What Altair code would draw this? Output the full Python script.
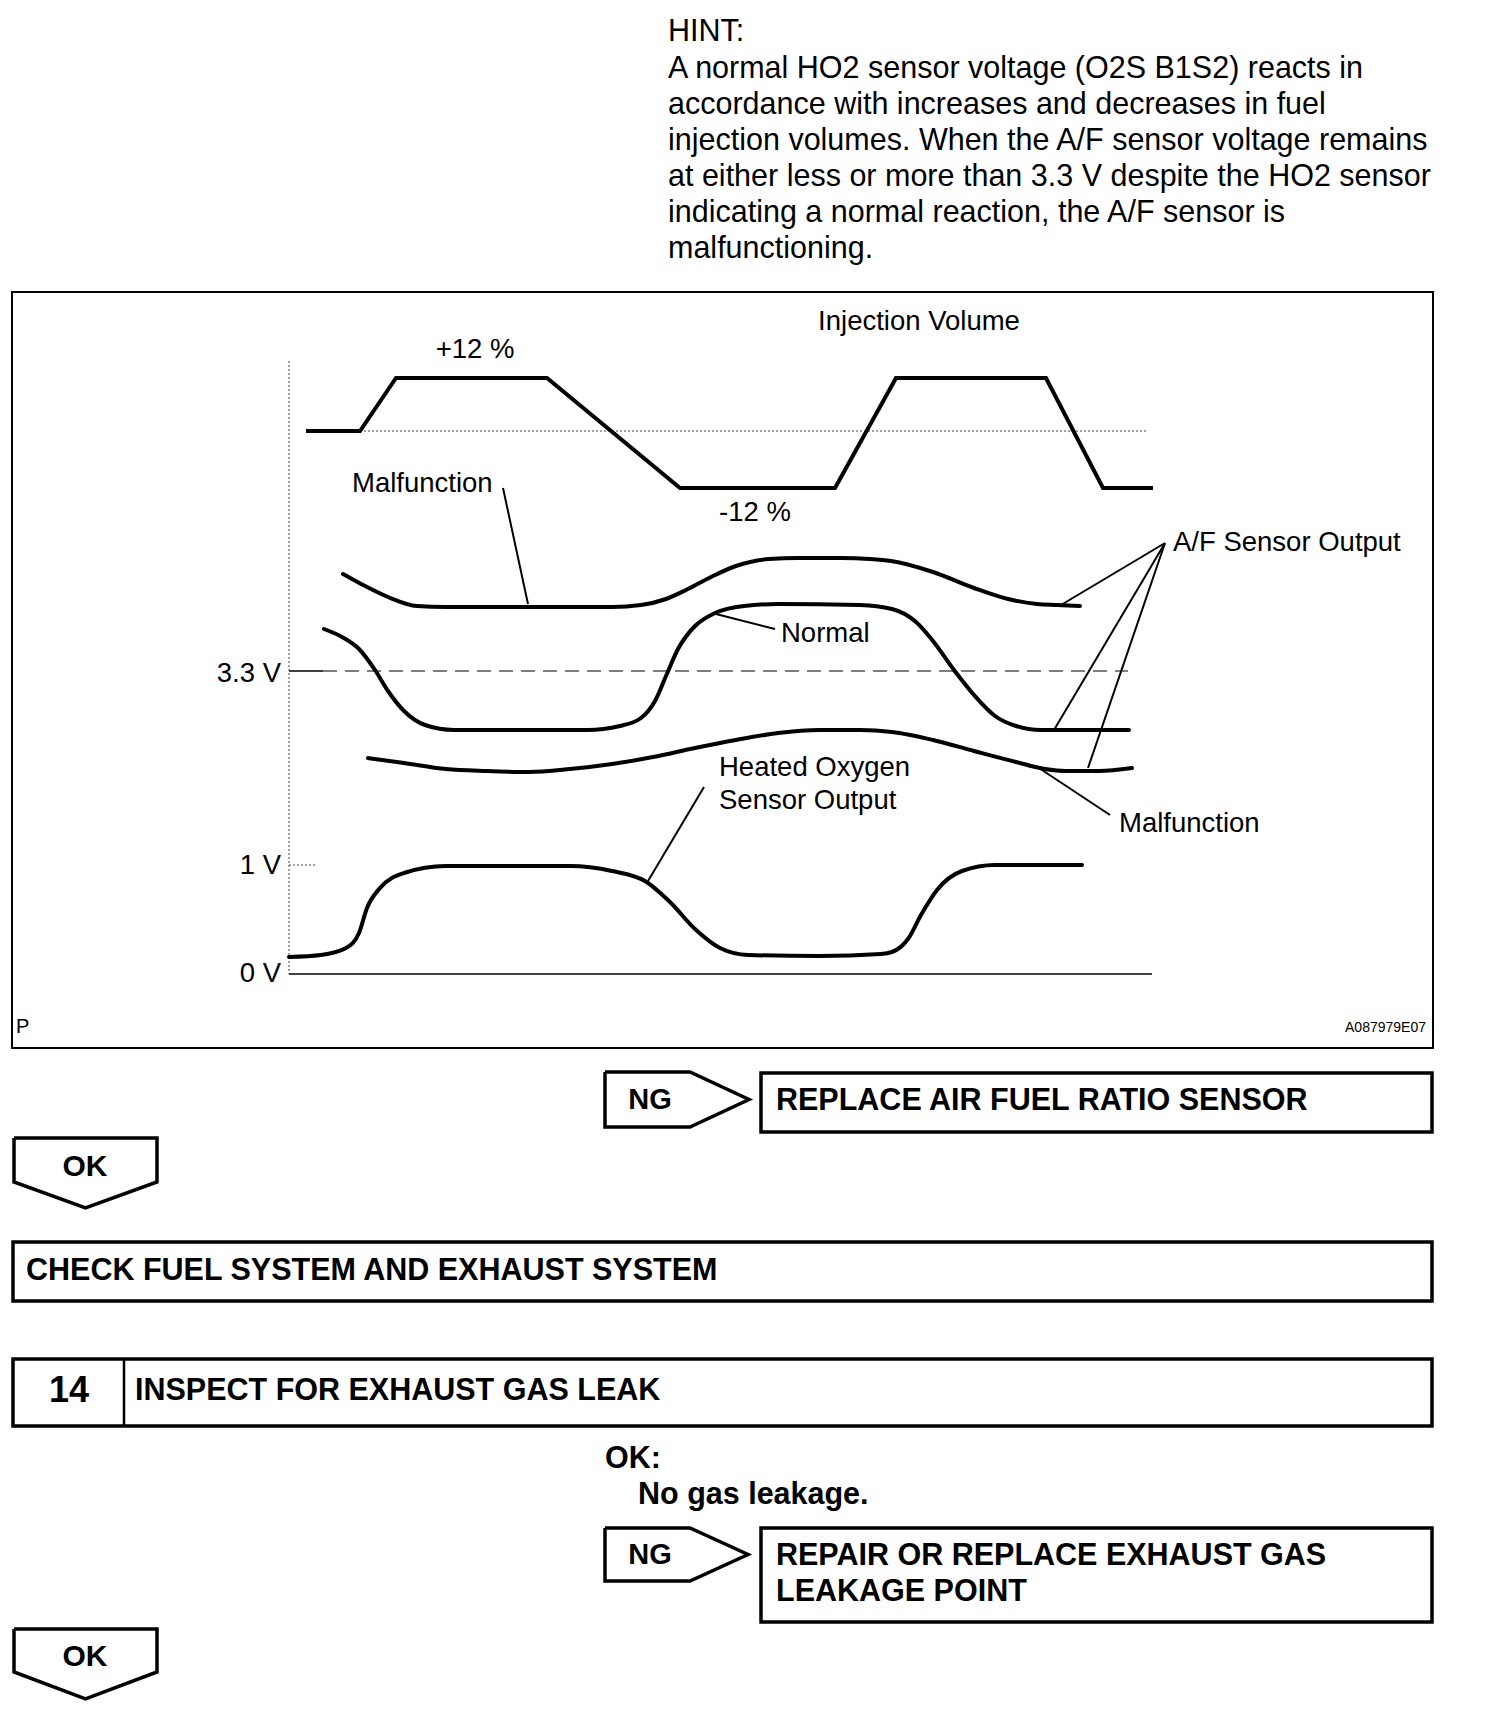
import altair as alt
import pandas as pd

# ---------------- page coordinates of the reference (px) ----------------
PAGE_W, PAGE_H = 1504, 1716

# ---------------- HINT text ----------------
HINT_LINES = [
    "HINT:",
    "A normal HO2 sensor voltage (O2S B1S2) reacts in",
    "accordance with increases and decreases in fuel",
    "injection volumes. When the A/F sensor voltage remains",
    "at either less or more than 3.3 V despite the HO2 sensor",
    "indicating a normal reaction, the A/F sensor is",
    "malfunctioning.",
]
HINT_X = 668
HINT_Y = [32, 69, 105, 141, 177, 213, 249]

# ---------------- diagram curves ----------------
INJ_X = [306, 360, 396, 547, 680, 835, 896, 1046, 1103, 1153]
INJ_Y = [431, 431, 378, 378, 488, 488, 378, 378, 488, 488]

AF_MAL_UP_X = [343, 363, 388, 417, 446, 529, 612, 641, 666, 686, 711, 736, 769, 798, 840,
               870, 891, 933, 974, 1008, 1037, 1057, 1080]
AF_MAL_UP_Y = [574, 585, 597, 606, 607, 607, 607, 605, 599, 590, 577, 566, 559, 558, 558,
               559, 561, 572, 588, 599, 604, 605, 606]

AF_NORMAL_X = [324, 342, 359, 375, 388, 404, 425, 454, 529, 587, 620, 641, 655, 666, 678,
               695, 715, 744, 778, 860, 892, 916, 933, 954, 974, 995, 1016, 1041, 1129]
AF_NORMAL_Y = [629, 637, 649, 670, 691, 711, 725, 730, 730, 730, 726, 718, 701, 676, 649,
               626, 613, 606, 604, 605, 609, 622, 641, 670, 695, 716, 726, 730, 730]

AF_MAL_LOW_X = [368, 404, 446, 487, 529, 570, 612, 653, 695, 736, 778, 819, 860, 892, 933,
                974, 1016, 1045, 1066, 1099, 1132]
AF_MAL_LOW_Y = [758, 763, 769, 771, 772, 769, 764, 757, 748, 740, 733, 730, 730, 732, 740,
                751, 762, 769, 771, 771, 768]

HO2_X = [289, 321, 346, 359, 367, 380, 404, 446, 570, 612, 645, 670, 695, 720, 748, 819,
         881, 892, 908, 921, 937, 962, 995, 1082]
HO2_Y = [957, 955, 948, 933, 908, 888, 873, 866, 866, 871, 881, 902, 929, 948, 955, 956,
         954, 952, 939, 915, 890, 871, 865, 865]

# leader lines: (x1, y1, x2, y2)
LEADERS = [
    (503, 488, 528, 604),      # Malfunction (upper)
    (716, 614, 775, 629),      # Normal
    (1165, 543, 1061, 605),    # A/F -> upper
    (1165, 543, 1054, 730),    # A/F -> normal
    (1165, 543, 1088, 768),    # A/F -> lower
    (1039, 768, 1110, 815),    # Malfunction (lower)
    (704, 787, 648, 881),      # Heated oxygen
]

# reference / axis lines
SOLID_THIN = [(289, 974, 1152, 974), (289, 671, 323, 671)]
DASH_33 = [(323, 671, 1128, 671)]
DOTTED = [(289, 361, 289, 974), (289, 865, 315, 865), (360, 431, 1146, 431)]

FRAME = (12, 292, 1433, 1048)

DIAG_LABELS = [
    ("Injection Volume", 919, 322, "center"),
    ("+12 %", 475, 350, "center"),
    ("-12 %", 755, 513, "center"),
    ("Malfunction", 352, 484, "left"),
    ("Normal", 781, 634, "left"),
    ("A/F Sensor Output", 1173, 543, "left"),
    ("Heated Oxygen", 719, 768, "left"),
    ("Sensor Output", 719, 801, "left"),
    ("Malfunction", 1119, 824, "left"),
    ("3.3 V", 281, 674, "right"),
    ("1 V", 281, 866, "right"),
    ("0 V", 281, 974, "right"),
]

# ---------------- flowchart ----------------
BOXES = [  # x1, y1, x2, y2
    (761, 1073, 1432, 1132),
    (13, 1242, 1432, 1301),
    (13, 1359, 1432, 1426),
    (761, 1528, 1432, 1622),
]
BOX_DIVIDER = [(124, 1359, 124, 1426)]

NG_SHAPES = [  # left, top, rect-right, tip-x, bottom
    (605, 1072, 690, 749, 1127),
    (605, 1528, 690, 748, 1581),
]
OK_SHAPES = [  # left, top, right, side-bottom, tip-y
    (14, 1138, 157, 1182, 1208),
    (14, 1629, 157, 1672, 1699),
]

FLOW_TEXT = [  # text, x, y, align, size
    ("NG", 650, 1100, "center", 29),
    ("REPLACE AIR FUEL RATIO SENSOR", 776, 1101, "left", 30.5),
    ("OK", 85, 1167, "center", 30),
    ("CHECK FUEL SYSTEM AND EXHAUST SYSTEM", 26, 1271, "left", 30.5),
    ("14", 69, 1391, "center", 36),
    ("INSPECT FOR EXHAUST GAS LEAK", 135, 1391, "left", 30.5),
    ("OK:", 605, 1459, "left", 30.5),
    ("No gas leakage.", 638, 1495, "left", 30.5),
    ("NG", 650, 1555, "center", 29),
    ("REPAIR OR REPLACE EXHAUST GAS", 776, 1556, "left", 30.5),
    ("LEAKAGE POINT", 776, 1592, "left", 30.5),
    ("OK", 85, 1657, "center", 30),
]

# ---------------- build tables ----------------
FONT = "Liberation Sans"
X = alt.X("x:Q", scale=alt.Scale(domain=[8, PAGE_W - 8], nice=False, zero=False), axis=None)
Y = alt.Y("y:Q", scale=alt.Scale(domain=[8, PAGE_H - 8], reverse=True, nice=False, zero=False), axis=None)


def poly_df(polys):
    rows = []
    for pid, (xs, ys) in enumerate(polys):
        for i, (x, y) in enumerate(zip(xs, ys)):
            rows.append({"id": pid, "i": i, "x": x, "y": y})
    return pd.DataFrame(rows)


def seg_df(segs):
    return poly_df([([a, c], [b, d]) for a, b, c, d in segs])


def line_layer(df, **kw):
    style = {"color": "black", "strokeCap": "butt", "strokeJoin": "miter"}
    style.update(kw)
    return alt.Chart(df).mark_line(**style).encode(x=X, y=Y, detail="id:N", order="i:Q")


curves = poly_df([(AF_MAL_UP_X, AF_MAL_UP_Y), (AF_NORMAL_X, AF_NORMAL_Y),
                  (AF_MAL_LOW_X, AF_MAL_LOW_Y), (HO2_X, HO2_Y)])
inj = poly_df([(INJ_X, INJ_Y)])

ng_polys = [([l, r, t, r, l, l], [tp, tp, (tp + b) / 2, b, b, tp]) for l, tp, r, t, b in NG_SHAPES]
ok_polys = [([l, r, r, (l + r) / 2, l, l], [tp, tp, sb, ty, sb, tp]) for l, tp, r, sb, ty in OK_SHAPES]

boxes_df = pd.DataFrame([{"x": a, "y": b, "x2": c, "y2": d} for a, b, c, d in BOXES])
frame_df = pd.DataFrame([{"x": FRAME[0], "y": FRAME[1], "x2": FRAME[2], "y2": FRAME[3]}])

hint_df = pd.DataFrame({"t": HINT_LINES, "x": HINT_X, "y": HINT_Y})
diag_df = pd.DataFrame(DIAG_LABELS, columns=["t", "x", "y", "a"])
flow_df = pd.DataFrame(FLOW_TEXT, columns=["t", "x", "y", "a", "s"])

layers = []
layers.append(alt.Chart(frame_df).mark_rect(fillOpacity=0, stroke="black", strokeWidth=2).encode(
    x=X, y=Y, x2="x2:Q", y2="y2:Q"))
layers.append(alt.Chart(boxes_df).mark_rect(fillOpacity=0, stroke="black", strokeWidth=3.5).encode(
    x=X, y=Y, x2="x2:Q", y2="y2:Q"))
layers.append(line_layer(seg_df(BOX_DIVIDER), strokeWidth=2.5))
layers.append(line_layer(poly_df(ng_polys + ok_polys), strokeWidth=3.5))

layers.append(line_layer(seg_df(DOTTED), strokeWidth=1, strokeDash=[2, 2], color="#444444"))
layers.append(line_layer(seg_df(SOLID_THIN), strokeWidth=1.3))
layers.append(line_layer(seg_df(DASH_33), strokeWidth=1.2, strokeDash=[14, 8]))
layers.append(line_layer(inj, strokeWidth=4))
layers.append(line_layer(curves, strokeWidth=4, interpolate="monotone", strokeCap="round"))
layers.append(line_layer(seg_df(LEADERS), strokeWidth=2))

layers.append(alt.Chart(hint_df).mark_text(align="left", baseline="middle", font=FONT, fontSize=30.5).encode(
    x=X, y=Y, text="t:N"))
for a in ["left", "center", "right"]:
    sub = diag_df[diag_df.a == a]
    layers.append(alt.Chart(sub).mark_text(align=a, baseline="middle", font=FONT, fontSize=27.5).encode(
        x=X, y=Y, text="t:N"))
for (a, s), sub in flow_df.groupby(["a", "s"]):
    layers.append(alt.Chart(sub).mark_text(align=a, baseline="middle", font=FONT, fontSize=float(s),
                                           fontWeight="bold").encode(x=X, y=Y, text="t:N"))

small_df = pd.DataFrame([{"t": "P", "x": 16, "y": 1027}])
code_df = pd.DataFrame([{"t": "A087979E07", "x": 1426, "y": 1028}])
layers.append(alt.Chart(small_df).mark_text(align="left", baseline="middle", font=FONT, fontSize=20).encode(
    x=X, y=Y, text="t:N"))
layers.append(alt.Chart(code_df).mark_text(align="right", baseline="middle", font=FONT, fontSize=14).encode(
    x=X, y=Y, text="t:N"))

chart = alt.layer(*layers).properties(
    width=PAGE_W - 16, height=PAGE_H - 16, padding=0,
    autosize=alt.AutoSizeParams(type="none"), background="white",
).configure_view(stroke=None)

chart.save("out.html", embed_options={"renderer": "svg", "actions": False})
